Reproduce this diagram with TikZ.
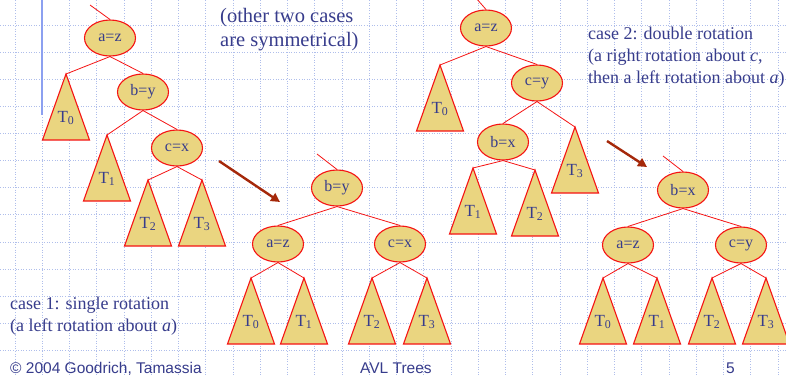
\documentclass[tikz,border=0pt]{standalone}
\usepackage{fontspec}
\setmainfont{Liberation Serif}
\newfontfamily\footfont{Liberation Sans}
\usetikzlibrary{shapes.geometric,arrows.meta}

\definecolor{slidetext}{RGB}{55,60,140}
\definecolor{nodefill}{RGB}{234,213,128}
\definecolor{nodeline}{RGB}{245,20,20}
\definecolor{gridblue}{RGB}{175,190,235}
\definecolor{rulerblue}{RGB}{140,160,240}
\definecolor{arrowred}{RGB}{165,40,10}

\tikzset{
  gridline/.style={gridblue,dotted,line width=0.6pt},
  key/.style={ellipse,draw=nodeline,fill=nodefill,line width=1.1pt,
    minimum width=51,minimum height=36,inner sep=0pt,text=slidetext,
    font=\rmfamily\fontsize{16}{16}\selectfont},
  edge/.style={nodeline,line width=0.8pt},
  subtree/.style={draw=nodeline,fill=nodefill,line width=1.1pt,line join=miter},
  tlabel/.style={anchor=base,inner sep=0pt,text=slidetext,font=\rmfamily\fontsize{17}{17}\selectfont},
  caption/.style={anchor=base west,inner sep=0pt,text=slidetext,font=\rmfamily\fontsize{18}{18}\selectfont},
  footer/.style={anchor=base west,inner sep=0pt,text=slidetext,font=\footfont\fontsize{15.5}{15.5}\selectfont},
  rotate arrow/.style={arrowred,line width=2.4pt,-{Triangle[length=9pt,width=9pt]}}
}

% subtree triangle hanging from its apex
\newcommand{\subtree}[2]{%
  \draw[subtree] (#1) -- ++(-23.5,66) -- ++(47,0) -- cycle;
  \path (#1) ++(0,48) node[tlabel] (#1-lbl) {T\textsubscript{#2}};}

\begin{document}
\begin{tikzpicture}[x=1pt,y=-1pt]
  \fill[white] (0,0) rectangle (786,376);
  \useasboundingbox (0,0) rectangle (786,376);

  % slide background
  \foreach \i in {0,...,28}
    \draw[gridline] (15+27.25*\i,0) -- (15+27.25*\i,376);
  \foreach \j in {0,...,12}
    \draw[gridline] (0,25+27.1*\j) -- (786,25+27.1*\j);
  \draw[rulerblue,line width=1.5pt] (42,0) -- (42,115);

  % case 1, before
  \coordinate (r1) at (90,5);
  \node[key] (a1) at (110,38) {a=z};
  \node[key] (b1) at (143,92) {b=y};
  \node[key] (c1) at (177,148) {c=x};
  \coordinate (t10) at (66,74);
  \coordinate (t11) at (107,135);
  \coordinate (t12) at (148,180);
  \coordinate (t13) at (202,180);
  \draw[edge] (r1) -- (a1.north);
  \draw[edge] (a1.south) -- (t10);
  \draw[edge] (a1.south) -- (b1.north);
  \draw[edge] (b1.south) -- (t11);
  \draw[edge] (b1.south) -- (c1.north);
  \draw[edge] (c1.south) -- (t12);
  \draw[edge] (c1.south) -- (t13);
  \subtree{t10}{0}
  \subtree{t11}{1}
  \subtree{t12}{2}
  \subtree{t13}{3}

  % case 1, after
  \coordinate (r2) at (317,154);
  \node[key] (b2) at (337,188) {b=y};
  \node[key] (a2) at (278,244) {a=z};
  \node[key] (c2) at (400,244) {c=x};
  \coordinate (t20) at (251,278);
  \coordinate (t21) at (304,278);
  \coordinate (t22) at (372,278);
  \coordinate (t23) at (427,278);
  \draw[edge] (r2) -- (b2.north);
  \draw[edge] (b2.south) -- (a2.north);
  \draw[edge] (b2.south) -- (c2.north);
  \draw[edge] (a2.south) -- (t20);
  \draw[edge] (a2.south) -- (t21);
  \draw[edge] (c2.south) -- (t22);
  \draw[edge] (c2.south) -- (t23);
  \subtree{t20}{0}
  \subtree{t21}{1}
  \subtree{t22}{2}
  \subtree{t23}{3}

  % case 2, before
  \coordinate (r3) at (476,-2);
  \node[key] (a3) at (486,28) {a=z};
  \node[key] (c3) at (537,83) {c=y};
  \node[key] (b3) at (503,142) {b=x};
  \coordinate (t30) at (440,65);
  \coordinate (t33) at (575,127);
  \coordinate (t31) at (473,168);
  \coordinate (t32) at (535,170);
  \draw[edge] (r3) -- (a3.north);
  \draw[edge] (a3.south) -- (t30);
  \draw[edge] (a3.south) -- (c3.north);
  \draw[edge] (c3.south) -- (b3.north);
  \draw[edge] (c3.south) -- (t33);
  \draw[edge] (b3.south) -- (t31);
  \draw[edge] (b3.south) -- (t32);
  \subtree{t30}{0}
  \subtree{t31}{1}
  \subtree{t32}{2}
  \subtree{t33}{3}

  % case 2, after
  \coordinate (r4) at (663,156);
  \node[key] (b4) at (683,190) {b=x};
  \node[key] (a4) at (628,245) {a=z};
  \node[key] (c4) at (741,245) {c=y};
  \coordinate (t40) at (603,278);
  \coordinate (t41) at (657,278);
  \coordinate (t42) at (712,278);
  \coordinate (t43) at (766,278);
  \draw[edge] (r4) -- (b4.north);
  \draw[edge] (b4.south) -- (a4.north);
  \draw[edge] (b4.south) -- (c4.north);
  \draw[edge] (a4.south) -- (t40);
  \draw[edge] (a4.south) -- (t41);
  \draw[edge] (c4.south) -- (t42);
  \draw[edge] (c4.south) -- (t43);
  \subtree{t40}{0}
  \subtree{t41}{1}
  \subtree{t42}{2}
  \subtree{t43}{3}

  % rotation arrows
  \coordinate (s1) at (219,161);
  \coordinate (e1) at (280,202);
  \coordinate (s2) at (607,141);
  \coordinate (e2) at (647,167);
  \draw[rotate arrow] (s1) -- (e1);
  \draw[rotate arrow] (s2) -- (e2);

  % captions
  \node[caption,font=\rmfamily\fontsize{20.5}{20.5}\selectfont] (sym1) at (220,22) {(other two cases};
  \node[caption,font=\rmfamily\fontsize{20.5}{20.5}\selectfont] (sym2) at (220,46) {are symmetrical)};
  \node[caption] (single1) at (10,309) {case 1: single rotation};
  \node[caption] (single2) at (10,331) {(a left rotation about \textit{a})};
  \node[caption] (double1) at (588,39) {case 2: double rotation};
  \node[caption] (double2) at (588,61) {(a right rotation about \textit{c},};
  \node[caption] (double3) at (588,83) {then a left rotation about \textit{a})};

  % footer
  \node[footer] (copy) at (10,373) {© 2004 Goodrich, Tamassia};
  \node[footer] (title) at (360,373) {AVL Trees};
  \node[footer] (page) at (726,373) {5};
\end{tikzpicture}
\end{document}
